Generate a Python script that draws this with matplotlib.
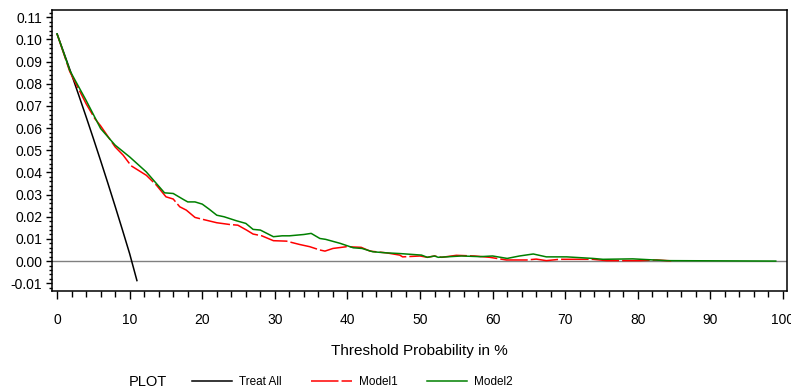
import matplotlib
matplotlib.use("Agg")
import matplotlib.pyplot as plt
from matplotlib.ticker import MultipleLocator

plt.rcParams['font.family'] = ['Liberation Sans', 'DejaVu Sans']

# threshold probability (%) and net benefit
treat_all_t = [0, 1, 2, 3, 4, 5, 6, 7, 8, 9, 10, 11]
treat_all_nb = [0.1025, 0.0934, 0.0842, 0.0747, 0.0651, 0.0553, 0.0453,
                0.0351, 0.0247, 0.0141, 0.0033, -0.0088]

model1_t = [0, 1.75, 4, 5.2, 6, 8, 9.1, 10.2, 12.3, 13.7,
            15, 16, 16.9, 17.8, 19, 20.1, 22, 23.8, 24.9, 26.1,
            27, 28.2, 29.8, 31.6, 33.4, 34.8, 36.2, 36.9, 38, 39.9,
            41.9, 43.1, 45.4, 47.2, 47.6, 50, 51, 52, 53, 55,
            57.5, 59.6, 61.9, 64.7, 66, 67.4, 69.2, 73.8, 75.7, 80.3,
            82.6, 84.6]
model1_nb = [0.1025, 0.0855, 0.071, 0.0643, 0.061, 0.0515, 0.0478, 0.043, 0.0387, 0.0342,
             0.029, 0.028, 0.0245, 0.023, 0.0197, 0.0188, 0.0173, 0.0165, 0.0162, 0.014,
             0.0122, 0.0114, 0.0092, 0.009, 0.0075, 0.0065, 0.005, 0.0045, 0.0057, 0.0065,
             0.0062, 0.0045, 0.0037, 0.0027, 0.0019, 0.0023, 0.0017, 0.0023, 0.0017, 0.0026,
             0.0023, 0.0017, 0.0005, 0.0005, 0.0009, 0.0002, 0.0008, 0.0008, 0.0002, 0.0002,
             0.0005, 0.0001]

model2_t = [0, 1.75, 4, 6, 8, 10, 12.3, 14.8, 16, 17.4,
            18, 19, 20, 21, 22, 23, 24.7, 26, 27, 28,
            29.8, 31, 32, 34, 35, 36.2, 37, 39, 40.8, 42,
            43.5, 45.4, 47.2, 50.2, 51, 52, 52.5, 53.6, 55.7, 58.3,
            60, 62, 63.7, 65.6, 67.4, 70.2, 73.8, 75.2, 79.3, 84,
            99]
model2_nb = [0.1025, 0.086, 0.0725, 0.0598, 0.0523, 0.047, 0.0402, 0.0308, 0.0305, 0.0278,
             0.0267, 0.0267, 0.0257, 0.0233, 0.0207, 0.02, 0.0182, 0.017, 0.0143, 0.014,
             0.011, 0.0114, 0.0114, 0.012, 0.0125, 0.0102, 0.0098, 0.008, 0.006, 0.0057,
             0.0042, 0.0037, 0.0034, 0.0027, 0.0017, 0.0023, 0.0017, 0.0019, 0.0023, 0.002,
             0.0023, 0.0012, 0.0023, 0.0032, 0.0019, 0.0019, 0.0012, 0.0008, 0.001, 0.0002,
             0.0]

fig = plt.figure(figsize=(7.91, 3.91), dpi=100)
ax = fig.add_axes([52 / 791, 1 - 291 / 391, (787 - 52) / 791, (291 - 10) / 391])

ax.axhline(0, color='#808080', lw=1, zorder=1)
ax.plot(treat_all_t, treat_all_nb, color='black', lw=1.1, label='Treat All')
ax.plot(model1_t, model1_nb, color='#ff0000', lw=1.1, dashes=(18, 2), label='Model1')
ax.plot(model2_t, model2_nb, color='#008000', lw=1.1, label='Model2')

ax.set_xlim(-0.7, 100.55)
ax.set_ylim(-0.0135, 0.1133)
ax.xaxis.set_major_locator(MultipleLocator(10))
ax.xaxis.set_minor_locator(MultipleLocator(2))
ax.yaxis.set_major_locator(MultipleLocator(0.01))
ax.yaxis.set_minor_locator(MultipleLocator(0.002))
ax.yaxis.set_major_formatter(plt.FuncFormatter(lambda v, p: '%.2f' % v))

ax.tick_params(axis='x', which='major', length=6, width=1, pad=10, labelsize=10)
ax.tick_params(axis='x', which='minor', length=4, width=1)
ax.tick_params(axis='y', which='major', length=4, width=1, pad=3, labelsize=10)
ax.tick_params(axis='y', which='minor', length=2.5, width=1)
for s in ax.spines.values():
    s.set_linewidth(1.1)

ax.set_xlabel('Threshold Probability in %', fontsize=11, labelpad=12)

fig.text(129 / 791, 1 - 382 / 391, 'PLOT', fontsize=10.5, va='center', ha='left')
fig.legend(loc='center left', bbox_to_anchor=(192 / 791, 1 - 382 / 391),
           ncol=3, frameon=False, fontsize=8.5, handlelength=3.4,
           handletextpad=0.6, columnspacing=2.5, borderpad=0, borderaxespad=0)

fig.savefig('out.png', dpi=100)
